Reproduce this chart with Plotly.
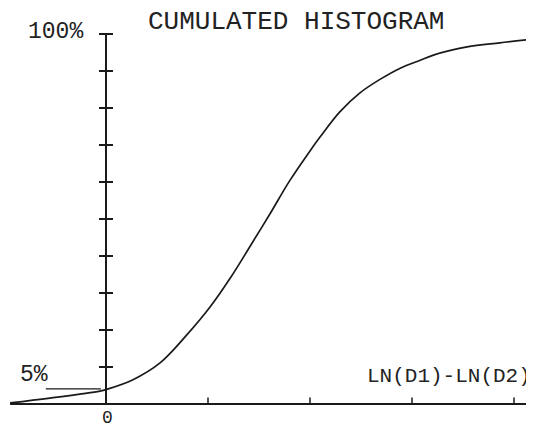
import plotly.graph_objects as go

# Data
x_vals = [-0.94, -0.55, -0.06, 0.01, 0.26, 0.53, 0.79, 1.02, 1.22, 1.41, 1.61, 1.80,
          2.00, 2.10, 2.29, 2.49, 2.69, 2.88, 3.08, 3.21, 3.54, 3.86, 4.19]
cum_pct = [0.3, 1.6, 3.5, 4.0, 6.5, 11.1, 18.6, 26.2, 34.1, 42.5, 51.5, 60.3,
           68.4, 72.2, 78.9, 84.1, 87.8, 90.7, 92.9, 94.3, 96.5, 97.6, 98.6]
y_ticks = [10, 20, 30, 40, 50, 60, 70, 80, 90, 100]
x_ticks = [1, 2, 3, 4]
x_axis_span = [-0.94, 4.3]
five_pct_x = [-0.59, -0.05]
five_pct_level = 4.1

BLACK = "#1a1a1a"
FONT = "Liberation Mono"
OFF = 8  # page body margin
W, H = 534 - OFF, 430 - OFF

fig = go.Figure()

# horizontal axis
fig.add_trace(go.Scatter(x=x_axis_span, y=[0, 0], mode="lines",
                         line=dict(color=BLACK, width=2), hoverinfo="skip"))
fig.add_trace(go.Scatter(x=x_ticks, y=[0.8] * len(x_ticks), mode="markers",
                         marker=dict(symbol="line-ns", size=5, line=dict(color=BLACK, width=1.5)),
                         hoverinfo="skip"))
# vertical axis
fig.add_trace(go.Scatter(x=[0, 0], y=[-0.3, 100], mode="lines",
                         line=dict(color=BLACK, width=2), hoverinfo="skip"))
fig.add_trace(go.Scatter(x=[0] * len(y_ticks), y=y_ticks, mode="markers",
                         marker=dict(symbol="line-ew", size=10, line=dict(color=BLACK, width=2)),
                         hoverinfo="skip"))
# 5% marker line
fig.add_trace(go.Scatter(x=five_pct_x, y=[five_pct_level, five_pct_level], mode="lines",
                         line=dict(color=BLACK, width=1.3), hoverinfo="skip"))
# cumulative curve
fig.add_trace(go.Scatter(x=x_vals, y=cum_pct, mode="lines",
                         line=dict(color=BLACK, width=1.7, shape="spline", smoothing=1.0)))

px_per_x = 102.0
px_per_y = 3.7
ox = 106 - OFF   # x=0 pixel in figure
oy = 404 - OFF   # y=0 pixel in figure
x0 = -ox / px_per_x
x1 = (W - ox) / px_per_x
y0 = -(H - oy) / px_per_y
y1 = oy / px_per_y

fig.update_xaxes(range=[x0, x1], visible=False, fixedrange=True)
fig.update_yaxes(range=[y0, y1], visible=False, fixedrange=True)

ann = [
    dict(text="CUMULATED HISTOGRAM", x=296, y=22, size=26),
    dict(text="100%", x=55, y=32, size=23),
    dict(text="5%", x=34, y=375, size=23),
    dict(text="LN(D1)-LN(D2)", x=449, y=376, size=21),
    dict(text="0", x=107, y=418, size=18),
]
for a in ann:
    fig.add_annotation(text=a["text"], xref="paper", yref="paper",
                       x=(a["x"] - OFF) / W, y=1 - (a["y"] - OFF) / H,
                       xanchor="center", yanchor="middle", showarrow=False,
                       font=dict(family=FONT, size=a["size"], color="#222222"))

fig.update_layout(width=W, height=H, margin=dict(l=0, r=0, t=0, b=0),
                  paper_bgcolor="white", plot_bgcolor="white", showlegend=False)

fig.write_html("out.html")
